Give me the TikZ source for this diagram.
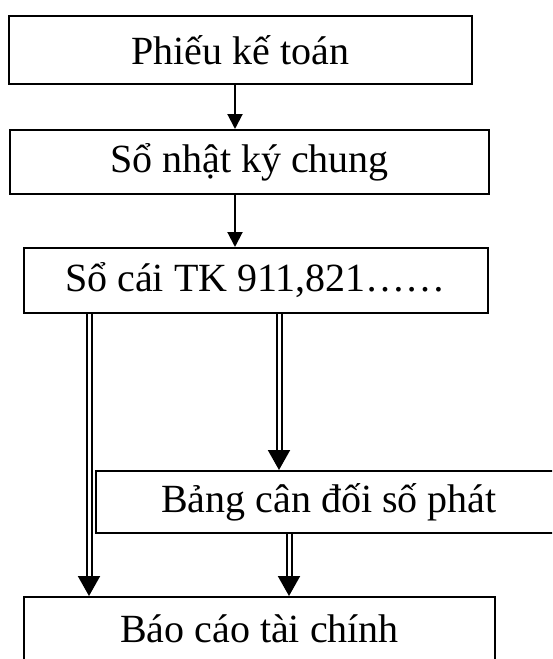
\documentclass[tikz,border=0pt]{standalone}
\usepackage{fontspec}
\setmainfont{Liberation Serif}
\usetikzlibrary{arrows.meta}

\begin{document}
\begin{tikzpicture}[x=1pt,y=-1pt,
                every node/.style={draw,line width=2pt,inner sep=0pt,font=\fontsize{40}{44}\selectfont},
                link/.style={line width=2pt,-{Triangle[width=15pt,length=15pt]}},
                dbl/.style={double,double distance=3pt,line width=2pt,-{Triangle[width=22pt,length=20pt]}}]
  \clip (0,0) rectangle (552,659);
  \node[minimum width=463pt,minimum height=68pt] (phieu)  at (240.5,50)  {Phiếu kế toán};
  \node[minimum width=479pt,minimum height=64pt] (nhatky) at (249.5,162) {Sổ nhật ký chung};
  \node[minimum width=464pt,minimum height=65pt] (socai)  at (255.5,280.5) {Sổ cái TK 911,821……};
  \node[minimum width=466pt,minimum height=62pt] (bangcd) at (329,502)   {Bảng cân đối số phát};
  \node[minimum width=471pt,minimum height=64pt] (baocao) at (259.5,629) {Báo cáo tài chính};
  % where the arrows run
  \coordinate (c1) at (235,0);
  \coordinate (c2) at (89,0);
  \coordinate (c3) at (279,0);
  \coordinate (c4) at (289,0);
  \draw[link] (phieu.south -| c1) -- (nhatky.north -| c1);
  \draw[link] (nhatky.south -| c1) -- (socai.north -| c1);
  \draw[dbl] (socai.south -| c2) -- (baocao.north -| c2);
  \draw[dbl] (socai.south -| c3) -- (bangcd.north -| c3);
  \draw[dbl] (bangcd.south -| c4) -- (baocao.north -| c4);
\end{tikzpicture}
\end{document}
